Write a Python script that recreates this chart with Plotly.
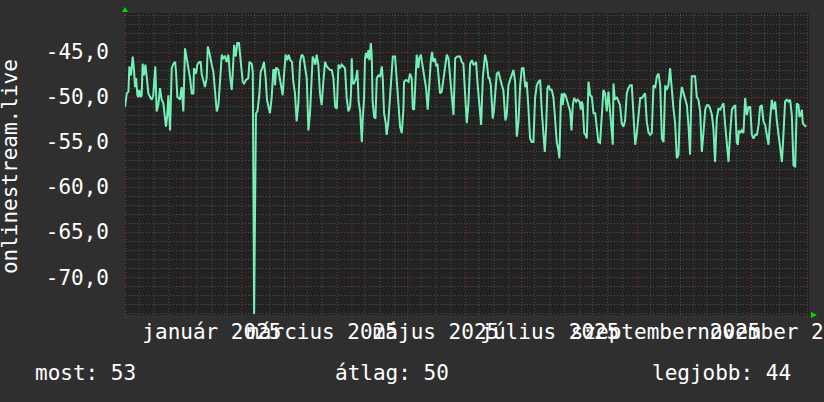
import pandas as pd
import plotly.graph_objects as go

# onlinestream.live jelszint (dB), 2024-12-01-től számolt napok
START = "2024-12-01"

DAYS = [
    -0.5, 0.4, 1.3, 1.8, 2.7, 3.6, 4.3, 4.8, 5.4, 6.1,
    6.6, 7.1, 7.9, 8.4, 8.9, 9.6, 10.4, 11.1, 12.0, 12.9,
    13.8, 14.6, 15.7, 16.4, 17.3, 18.2, 19.1, 20.0, 20.9, 21.4,
    22.1, 22.7, 23.6, 24.5, 25.4, 26.3, 26.8, 27.5, 28.2, 28.9,
    29.8, 30.7, 31.6, 32.5, 33.4, 34.3, 35.2, 36.1, 36.4, 37.5,
    38.2, 39.3, 40.0, 40.5, 41.4, 42.3, 43.2, 43.8, 44.6, 45.4,
    46.1, 46.8, 47.7, 48.6, 49.5, 50.4, 51.3, 52.1, 53.0, 53.9,
    54.8, 55.7, 56.6, 57.1, 57.9, 58.8, 59.6, 60.5, 61.4, 62.5,
    63.2, 64.3, 65.5, 66.1, 67.3, 67.9, 68.6, 69.6, 70.4, 71.4,
    72.1, 73.0, 73.9, 74.8, 75.5, 76.3, 77.1, 78.0, 78.9, 79.5,
    79.8, 80.4, 80.9, 81.6, 82.5, 83.4, 83.9, 84.6, 85.5, 86.4,
    87.1, 88.0, 88.9, 89.6, 90.5, 91.4, 92.3, 93.2, 94.1, 95.0,
    95.9, 96.8, 97.7, 98.6, 99.5, 100.0, 100.7, 101.4, 102.1, 103.0,
    103.9, 104.8, 105.7, 106.6, 107.5, 108.4, 109.3, 110.2, 111.1, 112.0,
    112.9, 113.8, 114.6, 115.5, 116.4, 117.3, 118.2, 119.1, 120.0, 120.5,
    120.9, 121.4, 122.1, 123.2, 123.9, 124.6, 125.4, 126.3, 126.8, 127.5,
    128.0, 128.6, 129.3, 129.8, 130.4, 131.1, 131.6, 132.1, 132.9, 133.6,
    134.3, 135.2, 136.1, 137.0, 137.5, 138.2, 139.1, 139.6, 140.5, 141.4,
    142.1, 142.9, 144.1, 145.0, 145.9, 146.8, 147.7, 148.6, 148.9, 150.0,
    151.3, 152.1, 153.0, 153.6, 154.3, 155.2, 155.7, 156.6, 157.1, 157.9,
    158.9, 159.6, 160.7, 161.6, 162.5, 163.2, 163.9, 164.6, 165.5, 166.1,
    166.8, 167.5, 168.2, 169.1, 170.0, 170.9, 171.8, 172.7, 173.6, 174.5,
    175.4, 176.3, 177.5, 178.9, 179.8, 180.7, 181.6, 182.5, 183.4, 184.3,
    185.2, 186.1, 187.0, 187.5, 188.2, 189.3, 190.2, 191.1, 192.3, 193.2,
    194.1, 194.6, 195.4, 196.4, 197.1, 197.9, 198.6, 199.5, 200.4, 201.3,
    202.1, 203.2, 203.9, 204.8, 205.7, 206.6, 207.5, 208.4, 209.3, 210.2,
    211.1, 212.0, 212.9, 213.8, 214.6, 215.5, 216.4, 217.3, 218.2, 219.1,
    220.0, 220.9, 221.8, 222.7, 223.6, 224.3, 225.0, 225.7, 226.4, 227.1,
    228.0, 228.9, 229.6, 230.7, 231.6, 232.1, 232.9, 233.4, 233.9, 234.6,
    235.4, 236.1, 237.0, 237.9, 238.6, 239.3, 240.0, 241.1, 241.8, 242.9,
    243.6, 244.1, 244.6, 245.4, 246.1, 246.8, 247.7, 248.6, 249.5, 250.4,
    251.3, 252.1, 253.0, 253.9, 254.8, 255.7, 256.6, 257.5, 258.4, 259.3,
    260.2, 260.7, 261.1, 261.8, 262.9, 263.8, 264.6, 265.5, 266.4, 267.3,
    268.2, 269.1, 270.0, 270.9, 271.8, 272.7, 273.6, 274.5, 275.4, 276.3,
    277.1, 278.0, 278.9, 279.8, 280.7, 281.6, 282.5, 283.4, 284.3, 285.2,
    286.1, 287.0, 287.9, 288.8, 289.6, 290.5, 291.4, 292.3, 293.2, 294.1,
    295.0, 295.9, 296.8, 297.7, 298.6, 299.5, 300.4, 301.3, 302.1, 303.0,
    303.9, 304.8, 305.7, 306.6, 307.5, 308.4, 309.3, 310.2, 311.1, 312.0,
    312.9, 313.8, 314.6, 315.5, 316.4, 317.3, 318.2, 319.1, 320.0, 320.9,
    321.8, 322.7, 323.6, 324.5, 325.4, 326.3, 327.1, 327.7, 328.2, 328.9,
    329.8, 330.7, 331.6, 332.5, 333.4, 334.3, 335.2, 336.1, 337.0, 337.9,
    338.8, 339.6, 340.5, 341.4, 342.3, 343.2, 344.1, 345.0, 345.9, 346.8,
    347.7, 348.6, 349.5, 350.4, 351.3, 352.1, 353.0, 353.9, 354.8, 355.7,
    356.6, 357.5, 358.4, 359.3, 360.2, 360.7, 361.4, 362.0, 362.5, 363.2,
    364.3,
]

VALUES = [
    -51.1, -49.6, -49.4, -46.6, -47.6, -45.5, -47.0, -48.9, -47.9, -49.8,
    -50.0, -49.2, -50.0, -49.8, -46.3, -47.6, -46.4, -47.6, -49.6, -50.0,
    -50.3, -49.8, -46.6, -51.6, -50.9, -49.0, -50.3, -50.7, -52.0, -53.3,
    -52.0, -49.8, -53.7, -46.8, -46.3, -46.1, -47.2, -50.0, -50.1, -50.3,
    -48.9, -51.6, -44.6, -45.5, -46.8, -47.9, -49.6, -49.6, -46.8, -47.4,
    -46.4, -46.1, -46.1, -47.4, -48.3, -48.9, -47.9, -44.4, -45.0, -46.1,
    -46.6, -47.2, -49.2, -51.6, -50.9, -47.9, -45.3, -45.7, -45.5, -46.1,
    -45.3, -47.6, -49.2, -47.6, -44.2, -45.5, -44.0, -44.0, -46.1, -48.3,
    -48.5, -48.1, -47.9, -46.1, -46.3, -47.2, -74.1, -51.8, -51.6, -49.8,
    -47.2, -46.8, -46.1, -47.9, -50.3, -51.3, -51.8, -50.1, -47.0, -47.0,
    -48.7, -46.8, -46.8, -47.0, -48.3, -49.6, -49.8, -47.6, -45.3, -45.9,
    -45.3, -45.9, -46.1, -48.3, -49.6, -52.7, -50.7, -46.1, -45.3, -45.5,
    -46.8, -47.9, -53.7, -51.6, -47.6, -45.5, -45.9, -46.4, -45.3, -46.4,
    -49.6, -50.9, -48.3, -46.1, -46.6, -46.8, -47.0, -47.0, -47.9, -51.1,
    -51.3, -46.4, -46.8, -46.4, -46.6, -46.8, -50.1, -51.6, -51.1, -49.6,
    -45.7, -48.5, -48.5, -47.9, -47.0, -50.5, -51.6, -55.0, -52.4, -50.1,
    -45.7, -45.1, -45.7, -44.8, -45.9, -44.0, -45.3, -50.5, -52.2, -52.4,
    -47.9, -47.6, -47.7, -46.6, -47.9, -51.8, -52.9, -54.2, -52.7, -49.6,
    -47.6, -45.5, -45.5, -47.9, -50.5, -53.3, -54.0, -51.3, -48.3, -48.1,
    -48.3, -47.4, -47.9, -51.3, -51.4, -47.6, -45.3, -46.8, -45.7, -45.3,
    -46.8, -47.7, -49.0, -51.4, -48.3, -46.1, -45.0, -46.1, -45.7, -46.6,
    -46.3, -47.6, -49.6, -49.4, -47.9, -46.4, -45.3, -45.7, -47.9, -50.3,
    -52.0, -45.7, -45.5, -45.5, -46.1, -46.3, -50.5, -52.9, -50.7, -46.3,
    -45.9, -46.4, -46.3, -46.1, -48.3, -51.4, -53.1, -47.9, -45.3, -46.1,
    -47.9, -47.9, -48.7, -52.4, -51.4, -49.2, -47.4, -47.2, -48.1, -48.7,
    -49.2, -52.6, -52.0, -48.7, -48.1, -47.4, -47.0, -48.3, -54.4, -52.7,
    -48.7, -46.8, -46.8, -48.9, -48.3, -51.1, -54.6, -55.0, -55.0, -50.1,
    -48.7, -48.3, -48.1, -51.6, -54.2, -56.1, -53.5, -49.0, -48.7, -49.2,
    -49.2, -50.0, -51.8, -55.0, -55.9, -56.8, -50.5, -49.6, -50.9, -49.6,
    -49.8, -50.3, -51.1, -51.6, -53.7, -50.9, -50.1, -50.5, -50.3, -50.5,
    -51.4, -50.5, -50.9, -54.0, -54.2, -54.6, -48.3, -49.8, -50.0, -51.8,
    -51.8, -53.1, -55.0, -55.1, -52.0, -49.2, -49.6, -51.6, -49.4, -51.4,
    -54.2, -55.3, -48.5, -50.3, -50.0, -50.5, -50.9, -52.9, -53.3, -52.6,
    -49.6, -49.0, -48.7, -48.7, -51.4, -55.3, -54.0, -52.4, -50.1, -50.1,
    -49.8, -49.6, -52.7, -53.9, -54.2, -54.0, -48.7, -49.0, -47.7, -47.4,
    -48.7, -54.6, -55.0, -48.7, -49.2, -48.7, -46.8, -49.2, -51.3, -52.9,
    -56.8, -56.4, -50.5, -48.9, -49.6, -50.0, -50.9, -53.3, -56.4, -47.7,
    -47.7, -47.7, -50.0, -50.3, -51.6, -56.1, -53.9, -51.4, -50.9, -50.9,
    -51.3, -52.0, -53.5, -57.2, -52.4, -51.3, -51.4, -51.1, -50.7, -53.1,
    -55.7, -57.2, -53.9, -51.4, -51.1, -50.9, -55.0, -55.3, -53.7, -54.0,
    -53.7, -54.0, -50.1, -52.0, -51.1, -51.1, -54.2, -54.6, -54.2, -54.2,
    -53.1, -51.1, -50.9, -52.7, -53.1, -54.2, -55.3, -52.4, -50.3, -51.4,
    -50.5, -52.7, -54.2, -55.3, -57.2, -54.2, -50.5, -50.3, -50.5, -50.3,
    -52.0, -57.6, -57.7, -50.7, -50.9, -52.2, -52.0, -51.4, -52.9, -53.1,
    -53.3,
]

Y_TICKS = [-70, -65, -60, -55, -50, -45]
Y_TICK_TEXT = ["-70,0", "-65,0", "-60,0", "-55,0", "-50,0", "-45,0"]

X_LABEL_DATES = ["2025-01-16", "2025-03-16", "2025-05-16",
                 "2025-07-16", "2025-09-16", "2025-11-16"]
X_LABEL_TEXT = ["január 2025", "március 2025", "május 2025",
                "július 2025", "szeptember 2025", "november 2025"]

SUMMARY = ["most: 53", "átlag: 50", "legjobb: 44"]
Y_TITLE = "onlinestream.live"

assert len(DAYS) == len(VALUES)

# színek
COLORS = {
    "bg": "#2f2f2f",
    "plot": "#222222",
    "line": "#74f0b6",
    "major": "#8a3232",
    "minor": "#505050",
    "text": "#ffffff",
    "arrow": "#00dd00",
}
FONT = "DejaVu Sans Mono"
FONT_SIZE = 21
DOT = "1px,2px"

start = pd.Timestamp(START)
x = start + pd.to_timedelta(DAYS, unit="D")
x_range = [(start - pd.Timedelta(days=0.54)).strftime("%Y-%m-%d %H:%M:%S"),
           (start + pd.Timedelta(days=365.8)).strftime("%Y-%m-%d %H:%M:%S")]

fig = go.Figure()

fig.add_trace(go.Scatter(
    x=x,
    y=VALUES,
    mode="lines",
    line=dict(color=COLORS["line"], width=2),
    hoverinfo="skip",
))

# függőleges rács: hónap eleje (piros), 8/16/24. nap (szürke)
month_starts = pd.date_range("2024-12-01", "2025-12-01", freq="MS")
for m in month_starts[:-1]:
    for off in (7, 15, 23):
        fig.add_shape(type="line", xref="x", yref="paper",
                      x0=m + pd.Timedelta(days=off), x1=m + pd.Timedelta(days=off),
                      y0=0, y1=1, layer="below",
                      line=dict(color=COLORS["minor"], width=1, dash=DOT))
for m in month_starts:
    fig.add_shape(type="line", xref="x", yref="paper",
                  x0=m, x1=m, y0=-0.01, y1=1, layer="below",
                  line=dict(color=COLORS["major"], width=1, dash=DOT))

# tengely nyilak
fig.add_shape(type="path", xref="paper", yref="paper",
              xsizemode="pixel", ysizemode="pixel", xanchor=0, yanchor=1,
              path="M -3,1 L 3,1 L 0,6 Z",
              fillcolor=COLORS["arrow"], line=dict(width=0))
fig.add_shape(type="path", xref="paper", yref="paper",
              xsizemode="pixel", ysizemode="pixel", xanchor=1, yanchor=0,
              path="M 2,-3 L 2,3 L 8,0 Z",
              fillcolor=COLORS["arrow"], line=dict(width=0))

# összesítő sor
for txt, xpos in zip(SUMMARY, [-0.1345, 0.304, 0.7675]):
    fig.add_annotation(text=txt, xref="paper", yref="paper", x=xpos, y=-0.192,
                       xanchor="left", yanchor="middle", showarrow=False,
                       font=dict(family=FONT, size=FONT_SIZE, color=COLORS["text"]))

fig.add_annotation(text=Y_TITLE, xref="paper", yref="paper", x=-0.168, y=0.49,
                   xanchor="center", yanchor="middle", textangle=-90, showarrow=False,
                   font=dict(family=FONT, size=FONT_SIZE, color=COLORS["text"]))

fig.update_layout(
    width=824,
    height=402,
    margin=dict(l=125, r=15, t=13, b=87, autoexpand=False),
    paper_bgcolor=COLORS["bg"],
    plot_bgcolor=COLORS["plot"],
    showlegend=False,
    font=dict(family=FONT, size=FONT_SIZE, color=COLORS["text"]),
    xaxis=dict(
        type="date",
        range=x_range,
        showgrid=False,
        zeroline=False,
        showline=False,
        tickmode="array",
        tickvals=X_LABEL_DATES,
        ticktext=X_LABEL_TEXT,
        tickangle=0,
        ticks="",
        ticklabelstandoff=2,
        ticklabeloverflow="allow",
        automargin=False,
        fixedrange=True,
    ),
    yaxis=dict(
        range=[-74.2, -40.67],
        tickmode="array",
        tickvals=Y_TICKS,
        ticktext=Y_TICK_TEXT,
        showgrid=True,
        gridcolor=COLORS["major"],
        gridwidth=1,
        griddash=DOT,
        minor=dict(tickmode="linear", tick0=0, dtick=1, showgrid=True,
                   gridcolor=COLORS["minor"], gridwidth=1, griddash=DOT),
        zeroline=False,
        showline=False,
        ticks="",
        ticklabelstandoff=15,
        automargin=False,
        fixedrange=True,
    ),
)

fig.write_html("out.html", config={"displayModeBar": False},
               post_script="document.body.style.margin = '0';")
